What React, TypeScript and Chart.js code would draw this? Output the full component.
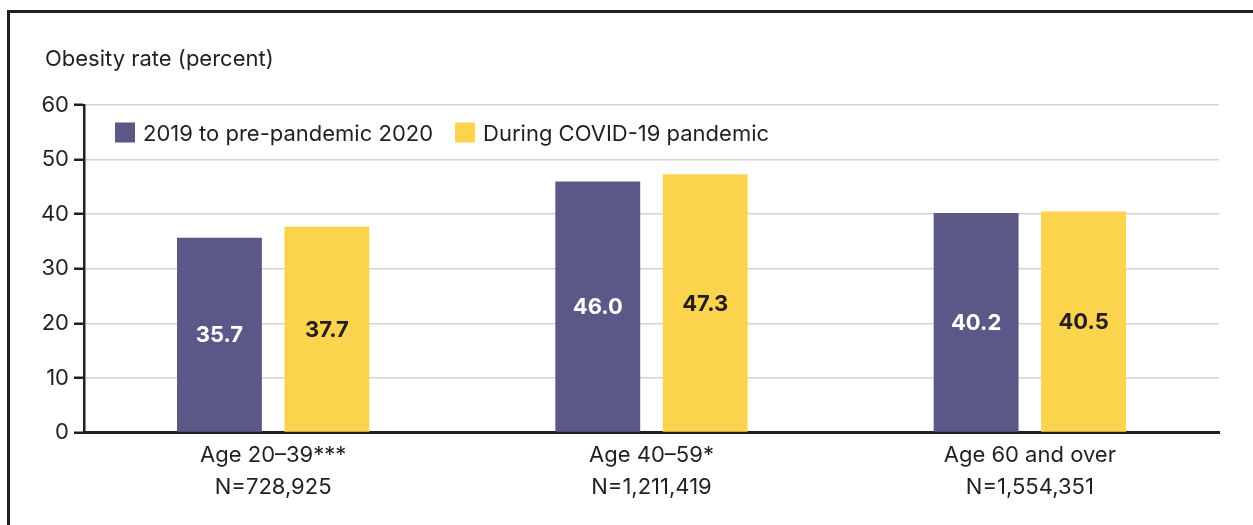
import React, { useEffect, useRef } from "react";
import { Chart, registerables } from "chart.js";

Chart.register(...registerables);

const categories: string[][] = [
  ["Age 20–39***", "N=728,925"],
  ["Age 40–59*", "N=1,211,419"],
  ["Age 60 and over", "N=1,554,351"],
];
const seriesNames = ["2019 to pre-pandemic 2020", "During COVID-19 pandemic"];
const prePandemic = [35.7, 46.0, 40.2];
const duringPandemic = [37.7, 47.3, 40.5];
const yTicks = [0, 10, 20, 30, 40, 50, 60];
const axisTitle = "Obesity rate (percent)";

const FONT = "Inter, 'Noto Sans', sans-serif";
const DARK = "#231f20";
const PURPLE = "#5b5787";
const YELLOW = "#fcd34c";
const labelColors = ["#ffffff", DARK];

const overlay = {
  id: "overlay",
  afterDatasetsDraw(chart: any) {
    const ctx = chart.ctx;
    ctx.save();
    ctx.font = `bold 22px ${FONT}`;
    ctx.textAlign = "center";
    ctx.textBaseline = "middle";
    chart.data.datasets.forEach((ds: any, di: number) => {
      const meta = chart.getDatasetMeta(di);
      meta.data.forEach((bar: any, i: number) => {
        const { x, y, base } = bar.getProps(["x", "y", "base"], true);
        ctx.fillStyle = labelColors[di];
        ctx.fillText(Number(ds.data[i]).toFixed(1), x, (y + base) / 2 + 1);
      });
    });
    ctx.restore();
  },
  afterDraw(chart: any) {
    const ctx = chart.ctx;
    const area = chart.chartArea;
    ctx.save();
    // axis title
    ctx.font = `22px ${FONT}`;
    ctx.fillStyle = DARK;
    ctx.textAlign = "left";
    ctx.textBaseline = "alphabetic";
    ctx.fillText(axisTitle, 45, 66);
    // legend
    let x = area.left + 31;
    const boxTop = area.top + 17.5;
    chart.data.datasets.forEach((ds: any) => {
      ctx.fillStyle = ds.backgroundColor;
      ctx.fillRect(x, boxTop, 20, 20);
      ctx.fillStyle = DARK;
      ctx.font = `22px ${FONT}`;
      ctx.fillText(ds.label, x + 28, boxTop + 18.5);
      x += 28 + ctx.measureText(ds.label).width + 22;
    });
    ctx.restore();
  },
};

export default function App() {
  const ref = useRef<HTMLCanvasElement | null>(null);
  useEffect(() => {
    if (!ref.current) return;
    const chart = new Chart(ref.current, {
      type: "bar",
      data: {
        labels: categories,
        datasets: [
          { label: seriesNames[0], data: prePandemic, backgroundColor: PURPLE },
          { label: seriesNames[1], data: duringPandemic, backgroundColor: YELLOW },
        ],
      },
      options: {
        responsive: false,
        animation: false,
        devicePixelRatio: 1,
        layout: { padding: { top: 105, right: 34, left: 0, bottom: 0 } },
        datasets: { bar: { categoryPercentage: 0.568, barPercentage: 0.79 } },
        plugins: { legend: { display: false }, tooltip: { enabled: false }, title: { display: false } },
        scales: {
          x: {
            grid: { display: false, drawTicks: false },
            border: { display: true, color: DARK, width: 3 },
            ticks: { color: DARK, font: { family: FONT, size: 22, lineHeight: 1.45 }, padding: 7, maxRotation: 0 },
            afterFit: (s: any) => { s.height = 92.5; },
          },
          y: {
            min: 0,
            max: 60,
            afterBuildTicks: (s: any) => { s.ticks = yTicks.map((v) => ({ value: v })); },
            grid: { color: "#d3d3d3", lineWidth: 1.5, tickColor: DARK, tickWidth: 2.5, tickLength: 10, drawTicks: true },
            border: { display: true, color: DARK, width: 2.5 },
            ticks: { color: DARK, font: { family: FONT, size: 22 }, padding: 5 },
            afterFit: (s: any) => { s.width = 84; },
          },
        },
      },
      plugins: [overlay],
    });
    return () => chart.destroy();
  }, []);

  return (
    <div style={{ position: "fixed", left: 0, top: 0, width: 1253, height: 525, overflow: "hidden", background: "#fff" }}>
      <div style={{ position: "absolute", left: 7, top: 10, width: 1400, height: 700, border: `3px solid ${DARK}` }} />
      <canvas ref={ref} width={1253} height={525} style={{ position: "absolute", left: 0, top: 0, width: 1253, height: 525 }} />
    </div>
  );
}
